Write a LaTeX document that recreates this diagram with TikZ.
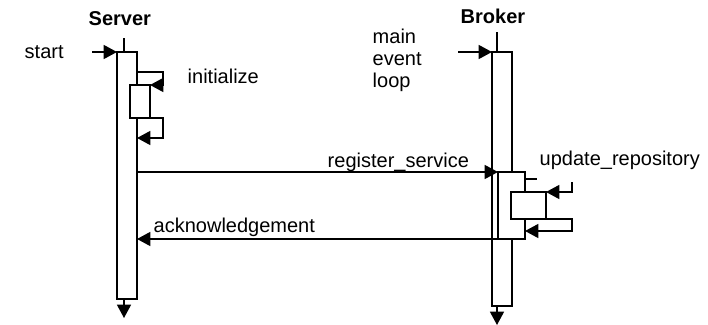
\documentclass[tikz,border=0pt]{standalone}
\usepackage{fontspec}
\setmainfont{Liberation Sans}
\usetikzlibrary{arrows.meta,fit}

\begin{document}
\begin{tikzpicture}[x=0.75pt, y=-0.75pt, line width=1.1pt,
    act/.style={draw, fill=white, inner sep=0pt, outer sep=0pt},
    msg/.style={-{Triangle[length=10pt,width=10.5pt]}},
    lbl/.style={anchor=base west, inner sep=0pt, font=\fontsize{15}{16.5}\selectfont},
    obj/.style={lbl, font=\fontsize{15}{16.5}\selectfont\bfseries}]
    \useasboundingbox (0,0) rectangle (708,325);
    % Server
    \node[obj] (server) at (88,25) {Server};
    \coordinate (srvtop) at (124,38);
    \coordinate (srvend) at (124,318);
    \node[act, fit={(117,52) (137,299)}] (srv) {};
    \draw (srvtop) -- (srvtop |- srv.north);
    \draw[msg] (srvend |- srv.south) -- (srvend);
    \node[lbl] (start) at (24,58) {start};
    \coordinate (startin) at (92,52);
    \draw[msg] (startin) -- (srv.north west);
    % initialize
    \node[act, fit={(130,85) (150,118)}] (srvinit) {};
    \node[lbl] (init) at (187,83) {initialize};
    \coordinate (initx) at (163,72);
    \coordinate (retx) at (163,138);
    \draw[msg] (srv.east |- initx) -- (initx) |- (srvinit.north east);
    \draw[msg] (srvinit.south east) -| (retx) -- (srv.east |- retx);
    % Broker
    \node[obj] (broker) at (460,23) {Broker};
    \coordinate (brktop) at (497,32);
    \coordinate (brkend) at (497,325);
    \node[act, fit={(492,52) (512,306)}] (brk) {};
    \draw (brktop) -- (brktop |- brk.north);
    \draw[msg] (brkend |- brk.south) -- (brkend);
    \node[lbl, align=left] (loop) at (372,87) {main\\event\\loop};
    \coordinate (mainin) at (458,52);
    \draw[msg] (mainin) -- (brk.north west);
    % register_service
    \node[act, fit={(498,172) (525,239)}] (brkreg) {};
    \node[lbl] (reg) at (327,167) {register\_service};
    \draw[msg] (srv.east |- brkreg.north west) -- (brkreg.north west);
    % update_repository
    \node[act, fit={(511,192) (546,219)}] (brkupd) {};
    \node[lbl] (upd) at (539,165) {update\_repository};
    \coordinate (updstub) at (537,179);
    \coordinate (updx) at (572,182);
    \coordinate (updret) at (572,231);
    \draw (brkreg.east |- updstub) -- (updstub);
    \draw[msg] (updx) |- (brkupd.north east);
    \draw[msg] (brkupd.south east) -| (updret) -- (brkreg.east |- updret);
    % acknowledgement
    \node[lbl] (ack) at (153,232) {acknowledgement};
    \draw[msg] (brkreg.south east) -- (srv.east |- brkreg.south east);
\end{tikzpicture}
\end{document}
